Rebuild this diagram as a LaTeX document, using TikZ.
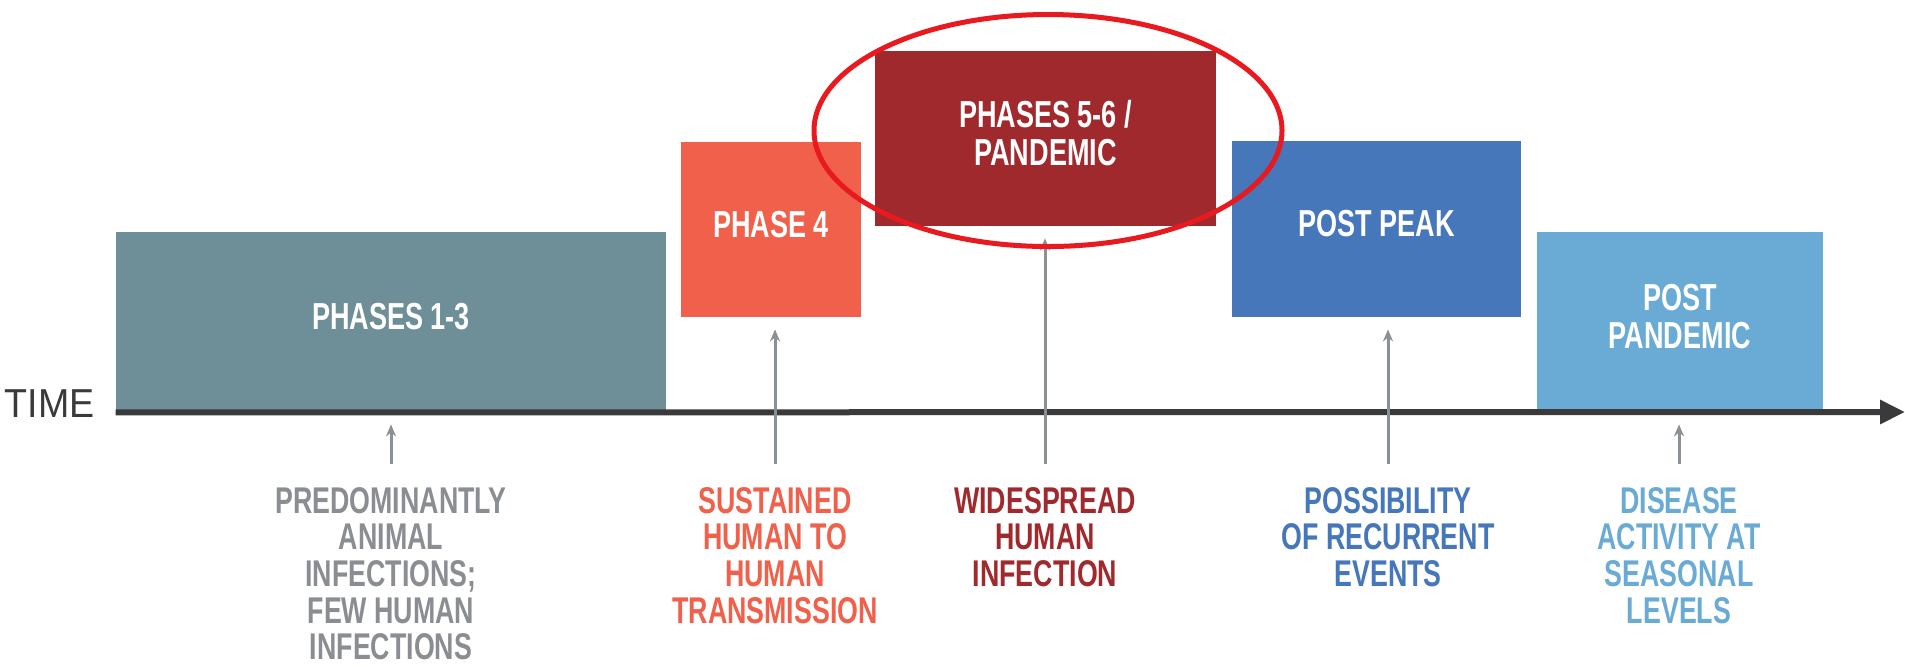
\documentclass[tikz,border=0pt]{standalone}
\usepackage{fontspec}
\setmainfont{Liberation Sans}
\newfontfamily\narrowfont{Liberation Sans}[FakeStretch=0.72]
\newfontfamily\timefont{Liberation Sans}[FakeStretch=0.93]
\usepackage{tikz}
\usetikzlibrary{arrows.meta,positioning,shapes.geometric}
\definecolor{myslate}{RGB}{110,143,152}
\definecolor{mycoral}{RGB}{240,96,74}
\definecolor{mymaroon}{RGB}{160,41,45}
\definecolor{myblue}{RGB}{69,119,186}
\definecolor{mysky}{RGB}{106,171,213}
\definecolor{myred}{RGB}{232,25,31}
\definecolor{mycharcoal}{RGB}{58,58,60}
\definecolor{mygrey}{RGB}{138,141,145}
\definecolor{mypin}{RGB}{138,144,150}

\begin{document}
\begin{tikzpicture}[
  x=0.5pt, y=-0.5pt,
  phasebox/.style={
    fill=#1,
    text=white,
    inner sep=0pt,
    align=center,
    font=\narrowfont\bfseries\fontsize{18.8}{19}\selectfont,
    text depth=5.5pt
    },
  desc/.style={
    text=#1,
    inner sep=0pt,
    anchor=north,
    align=center,
    font=\narrowfont\bfseries\fontsize{18.6}{18.3}\selectfont
    },
  pin/.style={
    draw=mypin,
    line width=1.5pt,
    -{Stealth[length=6pt,width=5pt]}
    }
]
\useasboundingbox (0,0) rectangle (1905,666);

% the phases along the time line
\node[phasebox=myslate, minimum width=275pt, minimum height=90pt] (p13) at (391,322) {PHASES 1-3};
\node[phasebox=mycoral, minimum width=90pt, minimum height=87.5pt] (p4) at (771,229.5) {PHASE 4};
\node[phasebox=mymaroon, minimum width=170.5pt, minimum height=87.5pt] (p56) at (1045.5,138.5) {PHASES 5-6 /\\PANDEMIC};
\node[phasebox=myblue, minimum width=144.5pt, minimum height=88pt] (pp) at (1376.5,229) {POST PEAK};
\node[phasebox=mysky, minimum width=143pt, minimum height=90pt] (ppan) at (1680,322) {POST\\PANDEMIC};

% time axis
\coordinate (tend) at (1905,412);
\draw[mycharcoal, line width=3pt, -{Triangle[length=12.5pt,width=11.5pt]}] (p13.south west) -- (tend);
\node[font=\timefont\fontsize{20.2}{24}\selectfont, text=mycharcoal, inner sep=0pt, anchor=east] (time) at (95,403.5) {TIME};

% what happens in each phase
\node[desc=mygrey] (d13) at (391,487) {PREDOMINANTLY\\ANIMAL\\INFECTIONS;\\FEW HUMAN\\INFECTIONS};
\node[desc=mycoral] (d4) at (775,487) {SUSTAINED\\HUMAN TO\\HUMAN\\TRANSMISSION};
\node[desc=mymaroon] (d56) at (1045,487) {WIDESPREAD\\HUMAN\\INFECTION};
\node[desc=myblue] (dpp) at (1388,487) {POSSIBILITY\\OF RECURRENT\\EVENTS};
\node[desc=mysky] (dppan) at (1679,487) {DISEASE\\ACTIVITY AT\\SEASONAL\\LEVELS};

\foreach \Desc/\Stage in {d13/p13, d4/p4, d56/p56, dpp/pp, dppan/ppan}
  \draw[pin] ([yshift=11.5pt]\Desc.north) -- ([yshift=-6pt]\Stage.south -| \Desc.north);

% ring round the pandemic phase
\node[ellipse, draw=myred, line width=2.5pt, minimum width=234pt, minimum height=116pt, inner sep=0pt] (ring) at (1048,130.5) {};
\end{tikzpicture}
\end{document}
